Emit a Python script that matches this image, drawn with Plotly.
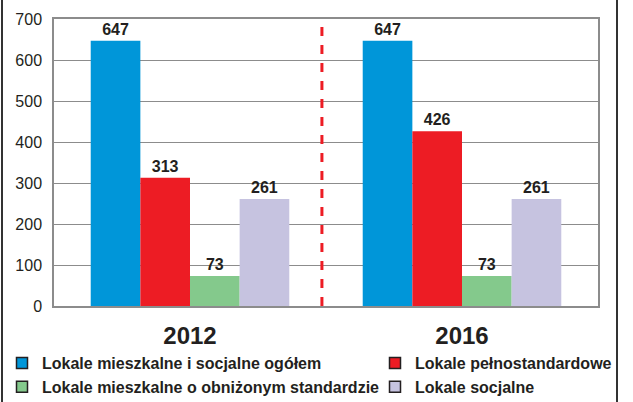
import plotly.graph_objects as go

years = ["2012", "2016"]
series_names = [
    "Lokale mieszkalne i socjalne ogółem",
    "Lokale pełnostandardowe",
    "Lokale mieszkalne o obniżonym standardzie",
    "Lokale socjalne",
]
values = [
    [647, 647],
    [313, 426],
    [73, 73],
    [261, 261],
]
colors = ["#0096d9", "#ed1c24", "#84c98c", "#c6c3e0"]
y_ticks = [0, 100, 200, 300, 400, 500, 600, 700]
legend_of = ["legend", "legend2", "legend", "legend2"]

FONT = "Liberation Sans, Arial, sans-serif"

fig = go.Figure()
for name, vals, col in zip(series_names, values, colors):
    fig.add_trace(go.Bar(
        x=[0, 1], y=vals, name=name, marker=dict(color=col, line=dict(width=0)),
        text=[str(v) for v in vals], textposition="outside",
        textfont=dict(family=FONT, size=16, color="#231f20", weight="bold"),
        cliponaxis=False, showlegend=False,
    ))
for name, col, lg in zip(series_names, colors, legend_of):
    fig.add_trace(go.Scatter(
        x=[None], y=[None], mode="markers", name=name, legend=lg,
        marker=dict(symbol="square", size=11, color=col,
                    line=dict(color="#231f20", width=1.5)),
    ))

fig.add_shape(type="line", xref="x", yref="y", x0=0.485, x1=0.485, y0=0, y1=700,
              line=dict(color="#ed1c24", width=3, dash="dash"))
# outer frame lines
fig.add_shape(type="line", xref="paper", yref="paper",
              x0=(2 - 54) / 544, x1=(2 - 54) / 544, y0=-0.5, y1=1.2,
              line=dict(color="#333333", width=2))
fig.add_shape(type="line", xref="paper", yref="paper",
              x0=(617 - 54) / 544, x1=(617 - 54) / 544, y0=-0.5, y1=1.2,
              line=dict(color="#333333", width=2))

legend_common = dict(
    orientation="v", yanchor="top", y=(306 - 346) / 287, xanchor="left",
    font=dict(family=FONT, size=16, color="#231f20", weight="bold"),
    itemwidth=30, tracegroupgap=0, bgcolor="rgba(0,0,0,0)",
)

fig.update_layout(
    width=633, height=402,
    margin=dict(l=54, r=35, t=19, b=96, autoexpand=False),
    paper_bgcolor="white", plot_bgcolor="white",
    barmode="group", bargap=0.27, bargroupgap=0,
    font=dict(family=FONT, color="#231f20"),
    xaxis=dict(
        range=[-0.5, 1.5], tickvals=[0, 1], ticktext=years,
        tickfont=dict(family=FONT, size=24, color="#231f20", weight="bold"),
        showgrid=False, showline=True, linecolor="#8c8c8c", linewidth=1.5,
        mirror=True, ticks="", zeroline=False, ticklabelstandoff=7,
    ),
    yaxis=dict(
        range=[0, 700], tickvals=y_ticks,
        tickfont=dict(family=FONT, size=16, color="#231f20"),
        showgrid=True, gridcolor="#8c8c8c", gridwidth=1.2,
        showline=True, linecolor="#8c8c8c", linewidth=1.5, mirror=True,
        ticks="", ticklabelstandoff=7, zeroline=False,
    ),
    legend=dict(x=(2 - 54) / 544, **legend_common),
    legend2=dict(x=(375 - 54) / 544, **legend_common),
)

fig.write_html("out.html", config={"displayModeBar": False},
               post_script="document.body.style.margin='0';")
